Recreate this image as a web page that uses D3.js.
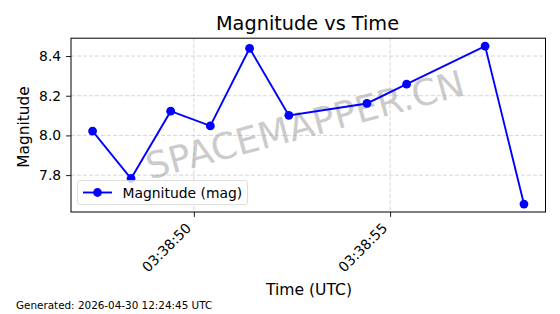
<!DOCTYPE html>
<html><head><meta charset="utf-8">
<script src="https://cdn.jsdelivr.net/npm/d3@7"></script>
<style>body{margin:0;background:#fff;} text{font-family:"DejaVu Sans",sans-serif;}</style>
</head><body>
<svg id="c" width="560" height="314"></svg>
<script>
const times = ["03:38:47.42","03:38:48.40","03:38:49.41","03:38:50.42","03:38:51.42","03:38:52.42","03:38:54.41","03:38:55.42","03:38:57.42","03:38:58.41"];
const magnitudes = [8.022, 7.783, 8.122, 8.048, 8.439, 8.101, 8.161, 8.258, 8.450, 7.654];
const yTicks = [7.8, 8.0, 8.2, 8.4];
const xTickLabels = ["03:38:50","03:38:55"];
const title = "Magnitude vs Time";
const seriesName = "Magnitude (mag)";
const footer = "Generated: 2026-04-30 12:24:45 UTC";

const parse = s => { const [h,m,sec] = s.split(":"); const sf = parseFloat(sec); return new Date(Date.UTC(2026,3,30,+h,+m,Math.floor(sf),Math.round((sf-Math.floor(sf))*1000))); };
const data = times.map((t,i)=>({t:parse(t), v:magnitudes[i]}));
const xTicks = xTickLabels.map(parse);

const svg = d3.select("#c");
const L=71, R=545.5, T=38.2, B=212;
const tExt = d3.extent(data,d=>d.t), span = tExt[1]-tExt[0];
const x = d3.scaleUtc().domain([new Date(+tExt[0]-span*0.05), new Date(+tExt[1]+span*0.05)]).range([L,R]);
const vExt = d3.extent(magnitudes), vs = vExt[1]-vExt[0];
const y = d3.scaleLinear().domain([vExt[0]-vs*0.05, vExt[1]+vs*0.05]).range([B,T]);

// grid
const g = svg.append("g");
g.selectAll(".gy").data(yTicks).join("line").attr("x1",L).attr("x2",R).attr("y1",d=>y(d)).attr("y2",d=>y(d))
 .attr("stroke","#cccccc").attr("stroke-width",0.8).attr("stroke-dasharray","4,2");
g.selectAll(".gx").data(xTicks).join("line").attr("x1",d=>x(d)).attr("x2",d=>x(d)).attr("y1",T).attr("y2",B)
 .attr("stroke","#cccccc").attr("stroke-width",0.8).attr("stroke-dasharray","4,2");

// watermark
svg.append("text").attr("transform",`translate(${(L+R)/2},${(T+B)/2+12}) rotate(-15)`)
 .attr("text-anchor","middle").attr("font-size",36.5).attr("fill","#999").attr("opacity",0.5).text("SPACEMAPPER.CN");

// axes
const fmt = d3.utcFormat("%H:%M:%S");
const xa = svg.append("g").attr("transform",`translate(0,${B})`)
 .call(d3.axisBottom(x).tickValues(xTicks).tickFormat(fmt).tickSize(4.9).tickPadding(0));
xa.selectAll("text").attr("font-size",13.9).attr("fill","#000").attr("text-anchor","end")
 .attr("x",0).attr("y",0).attr("dy",0).attr("transform","translate(-2.3,17) rotate(-45)");
const ya = svg.append("g").attr("transform",`translate(${L},0)`)
 .call(d3.axisLeft(y).tickValues(yTicks).tickFormat(d3.format(".1f")).tickSize(4.9).tickPadding(4.9));
ya.selectAll("text").attr("font-size",13.9).attr("fill","#000");
[xa,ya].forEach(a=>{a.select(".domain").remove(); a.selectAll("line").attr("stroke","#000").attr("stroke-width",0.9); a.selectAll("text").style("font-family","DejaVu Sans");});
svg.append("rect").attr("x",L).attr("y",T).attr("width",R-L).attr("height",B-T).attr("fill","none").attr("stroke","#000").attr("stroke-width",1);

// series
svg.append("path").datum(data).attr("d",d3.line().x(d=>x(d.t)).y(d=>y(d.v)))
 .attr("fill","none").attr("stroke","#0000ff").attr("stroke-width",1.9);
svg.selectAll(".pt").data(data).join("circle").attr("cx",d=>x(d.t)).attr("cy",d=>y(d.v)).attr("r",4.4).attr("fill","#0000ff");

// legend
const lg = svg.append("g");
lg.append("rect").attr("x",77.5).attr("y",180.5).attr("width",170).attr("height",24).attr("rx",2.5)
 .attr("fill","#fff").attr("fill-opacity",0.8).attr("stroke","#d5d5d5").attr("stroke-width",0.8);
lg.append("line").attr("x1",83).attr("x2",112).attr("y1",192.5).attr("y2",192.5).attr("stroke","#0000ff").attr("stroke-width",1.9);
lg.append("circle").attr("cx",97.5).attr("cy",192.5).attr("r",4.4).attr("fill","#0000ff");
lg.append("text").attr("x",122.5).attr("y",197.5).attr("font-size",13.9).text(seriesName);

// labels
svg.append("text").attr("x",307.5).attr("y",30).attr("text-anchor","middle").attr("font-size",19.3).text(title);
svg.append("text").attr("transform",`translate(29,127) rotate(-90)`).attr("text-anchor","middle").attr("font-size",15.4).text("Magnitude");
svg.append("text").attr("x",309).attr("y",295).attr("text-anchor","middle").attr("font-size",15.6).text("Time (UTC)");
svg.append("text").attr("x",16).attr("y",309).attr("font-size",10.4).text(footer);
</script>
</body></html>
